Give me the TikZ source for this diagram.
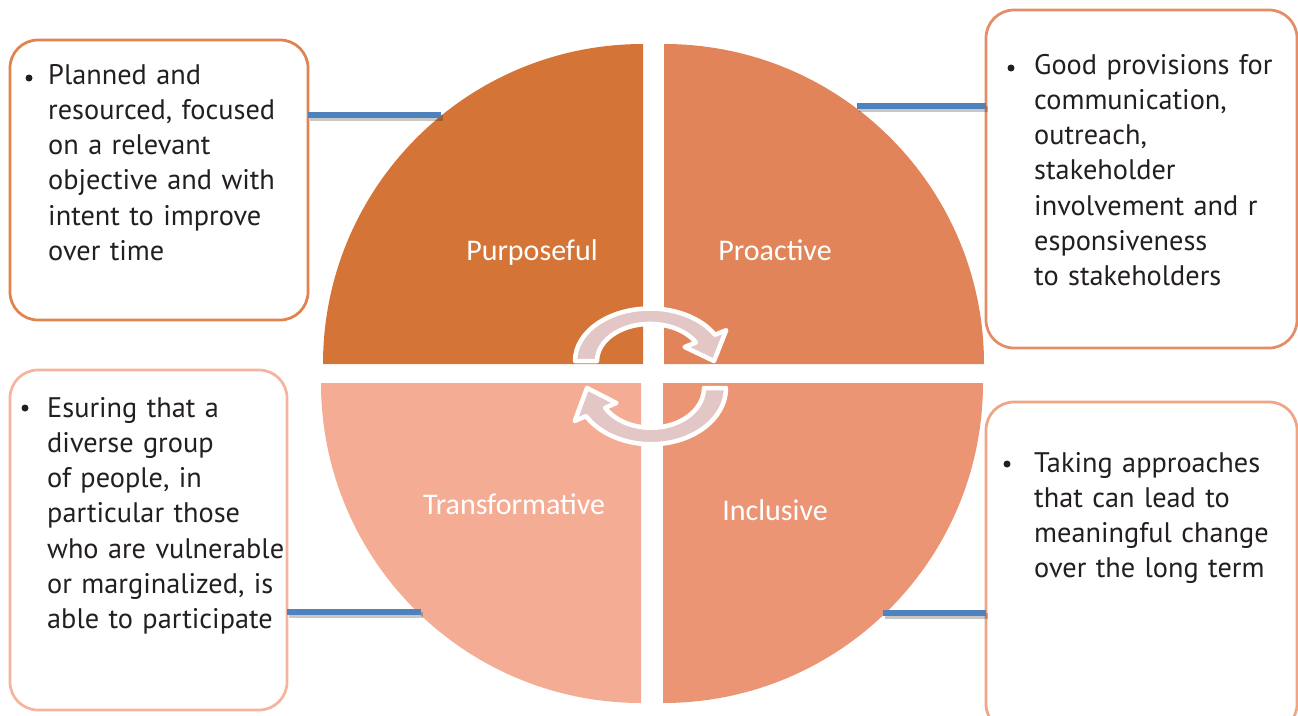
\documentclass[tikz,border=0pt]{standalone}
\usepackage{fontspec}
\setmainfont{PT Sans}
\newfontfamily\labelfont{Carlito}
\definecolor{qTL}{RGB}{213,116,55}
\definecolor{qTR}{RGB}{226,132,89}
\definecolor{qBL}{RGB}{244,173,148}
\definecolor{qBR}{RGB}{235,149,117}
\definecolor{bTL}{RGB}{224,131,79}
\definecolor{bTR}{RGB}{229,141,102}
\definecolor{bBL}{RGB}{245,180,158}
\definecolor{bBR}{RGB}{240,165,135}
\definecolor{conn}{RGB}{79,129,189}
\definecolor{txt}{RGB}{35,31,32}
\definecolor{arrowfill}{RGB}{227,199,199}
\begin{document}
\begin{tikzpicture}[x=1pt,y=-1pt,
  infobox/.style={rectangle, rounded corners=28, line width=2.75, fill=white, anchor=north west, inner sep=0, outer sep=0},
  boxtext/.style={text=txt, font=\fontsize{28.3}{35.25}\selectfont, align=left, text width=300, inner sep=0, anchor=base west},
  bulletdot/.style={circle, fill=txt, minimum size=7, inner sep=0},
  qlabel/.style={text=white, font=\labelfont\fontsize{30}{32}\selectfont, anchor=base, inner sep=0},
  arrowshape/.style={fill=arrowfill, draw=white, line width=4.5, line join=round},
  connector/.style={draw=conn, line width=5.5,
    preaction={draw=black, draw opacity=0.22, line width=6, transform canvas={xshift=1.5pt, yshift=-3pt}}}
]
\useasboundingbox (0,0) rectangle (1298,715);

% quadrants
\fill[qTL] (643,364) -- (323,364) arc[start angle=180, end angle=270, radius=320] -- cycle;
\fill[qTR] (664,364) -- (664,44) arc[start angle=270, end angle=360, radius=320] -- cycle;
\fill[qBL] (641,383) -- (641,703) arc[start angle=90, end angle=180, radius=320] -- cycle;
\fill[qBR] (663,383) -- (983,383) arc[start angle=0, end angle=90, radius=320] -- cycle;

% circular arrows
\begin{scope}[shift={(650,361)}, yscale=0.7]
  \filldraw[arrowshape] (180:75) arc[start angle=180, end angle=330, radius=75]
    -- (330:88) -- (0:64) -- (330:40) -- (330:53)
    arc[start angle=330, end angle=180, radius=53] -- cycle;
\end{scope}
\begin{scope}[shift={(651,388)}, yscale=0.75, rotate=180]
  \filldraw[arrowshape] (180:75) arc[start angle=180, end angle=330, radius=75]
    -- (330:88) -- (0:64) -- (330:40) -- (330:53)
    arc[start angle=330, end angle=180, radius=53] -- cycle;
\end{scope}

% quadrant labels
\node[qlabel] (lpurp) at (532,260) {Purposeful};
\node[qlabel] (lproa) at (775,260) {Proactive};
\node[qlabel] (ltran) at (514,514) {Transformative};
\node[qlabel] (lincl) at (775,520) {Inclusive};

% boxes
\node[infobox, draw=bTL, minimum width=298, minimum height=280] (tlbox) at (10,40) {};
\node[infobox, draw=bTR, minimum width=311, minimum height=338] (trbox) at (986,10) {};
\node[infobox, draw=bBL, minimum width=277, minimum height=340] (blbox) at (10,370) {};
\node[infobox, draw=bBR, minimum width=311, minimum height=330] (brbox) at (986,402) {};

% arc contact points
\coordinate (tlarc) at (441,115);
\coordinate (trarc) at (857,106);
\coordinate (blarc) at (421,612);
\coordinate (brarc) at (883,613);

% connectors
\draw[connector] (tlbox.east |- tlarc) -- (tlarc);
\draw[connector] (trarc) -- (trarc -| trbox.west);
\draw[connector] (blbox.east |- blarc) -- (blarc);
\draw[connector] (brarc) -- (brarc -| brbox.west);

% bullets
\node[bulletdot] (tlbul) at (29,78) {};
\node[bulletdot] (trbul) at (1011,68) {};
\node[bulletdot] (blbul) at (25,408) {};
\node[bulletdot] (brbul) at (1007,464) {};

% box texts
\node[boxtext] (tltext) at (48,84) {Planned and\\resourced, focused\\on a relevant\\objective and with\\intent to improve\\over time};
\node[boxtext] (trtext) at (1034,74) {Good provisions for\\communication,\\outreach,\\stakeholder\\involvement and r\\esponsiveness\\to stakeholders};
\node[boxtext] (bltext) at (47,417) {Esuring that a\\diverse group\\of people, in\\particular those\\who are vulnerable\\or marginalized, is\\able to participate};
\node[boxtext] (brtext) at (1034,472) {Taking approaches\\that can lead to\\meaningful change\\over the long term};
\end{tikzpicture}
\end{document}
